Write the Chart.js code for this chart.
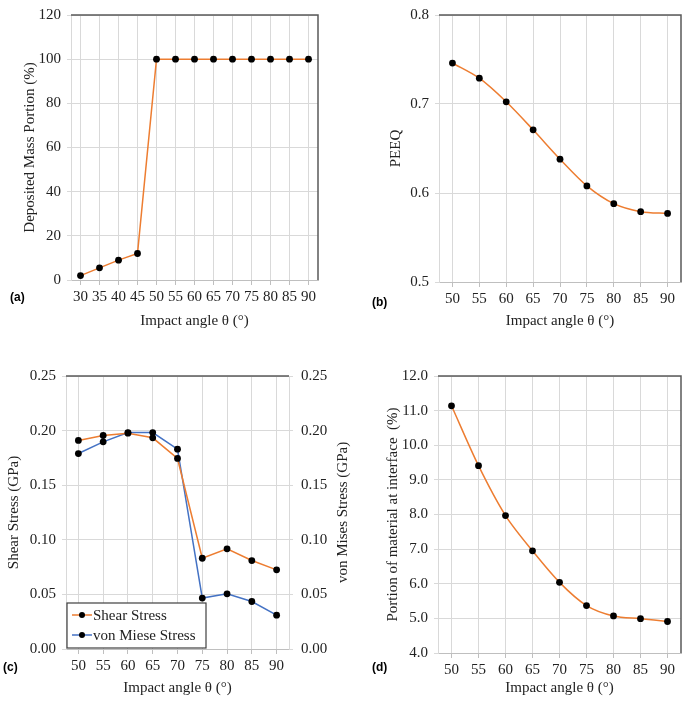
<!DOCTYPE html>
<html>
<head>
<meta charset="utf-8">
<script src="https://cdn.jsdelivr.net/npm/chart.js@4.4.1/dist/chart.umd.min.js"></script>
<style>
  html, body { margin: 0; padding: 0; background: #ffffff; }
  body { width: 685px; height: 701px; position: relative; overflow: hidden; }
  canvas { position: absolute; }
  .lab { position: absolute; font-family: "Liberation Sans", Arial, sans-serif; font-weight: bold; font-size: 12px; color: #000; }
</style>
</head>
<body>
<canvas id="ca" width="330" height="335" style="left:0px;top:0px"></canvas>
<canvas id="cb" width="345" height="335" style="left:340px;top:0px"></canvas>
<canvas id="cc" width="360" height="356" style="left:0px;top:345px"></canvas>
<canvas id="cd" width="305" height="356" style="left:380px;top:345px"></canvas>
<div class="lab" style="left:10px;top:290px">(a)</div>
<div class="lab" style="left:372px;top:295px">(b)</div>
<div class="lab" style="left:3px;top:660px">(c)</div>
<div class="lab" style="left:372px;top:660px">(d)</div>
<script>
// ---- data ----
const anglesA = [30, 35, 40, 45, 50, 55, 60, 65, 70, 75, 80, 85, 90];
const depositedMass = [2, 5.5, 9, 12, 100, 100, 100, 100, 100, 100, 100, 100, 100];
const anglesBCD = [50, 55, 60, 65, 70, 75, 80, 85, 90];
const peeq = [0.746, 0.729, 0.7025, 0.671, 0.638, 0.608, 0.588, 0.579, 0.577];
const shearStress = [0.191, 0.1955, 0.1976, 0.1934, 0.1745, 0.0831, 0.0917, 0.081, 0.0725];
const vonMisesStress = [0.179, 0.1897, 0.1982, 0.1982, 0.183, 0.0466, 0.0505, 0.0435, 0.031];
const interfacePortion = [11.14, 9.41, 7.97, 6.95, 6.04, 5.37, 5.07, 4.99, 4.91];
const seriesNames = ["Shear Stress", "von Miese Stress"];
const xTitle = "Impact angle θ (°)";
const rightTitleC = "von Mises Stress (GPa)";

const ORANGE = "#ED7D31";
const BLUE = "#4472C4";
const GRID = "#d9d9d9";
const SERIF = '"Liberation Serif", "Times New Roman", serif';

Chart.defaults.font.family = SERIF;
Chart.defaults.font.size = 15;
Chart.defaults.color = "#222";

const frame = {
  id: "frame",
  afterDatasetsDraw(chart, args, opts) {
    const ca = chart.chartArea, ctx = chart.ctx;
    ctx.save();
    ctx.strokeStyle = "#595959";
    ctx.lineWidth = 1.5;
    ctx.beginPath();
    ctx.moveTo(ca.left, ca.top);
    ctx.lineTo(ca.right, ca.top);
    if (opts.right) ctx.lineTo(ca.right, ca.bottom);
    ctx.stroke();
    ctx.restore();
  }
};

// right-axis title drawn reading bottom-to-top, like the left one
const rightTitle = {
  id: "rightTitle",
  afterDraw(chart, args, opts) {
    if (!opts.text) return;
    const s = chart.scales.y1, ctx = chart.ctx;
    ctx.save();
    ctx.translate(s.right - 9, (s.top + s.bottom) / 2);
    ctx.rotate(-Math.PI / 2);
    ctx.font = "15px " + SERIF;
    ctx.fillStyle = "#222";
    ctx.textAlign = "center";
    ctx.textBaseline = "middle";
    ctx.fillText(opts.text, 0, 0);
    ctx.restore();
  }
};

const boxLegend = {
  id: "boxLegend",
  afterDatasetsDraw(chart, args, opts) {
    if (!opts.show) return;
    const ca = chart.chartArea, ctx = chart.ctx;
    const x = ca.left + 1, w = 139, h = 45, y = ca.bottom - h - 1;
    ctx.save();
    ctx.fillStyle = "#fff";
    ctx.fillRect(x, y, w, h);
    ctx.strokeStyle = "#404040";
    ctx.lineWidth = 1.2;
    ctx.strokeRect(x, y, w, h);
    chart.data.datasets.forEach((ds, i) => {
      const cy = y + 12 + i * 20;
      ctx.strokeStyle = ds.borderColor;
      ctx.lineWidth = 1.5;
      ctx.beginPath();
      ctx.moveTo(x + 5, cy); ctx.lineTo(x + 25, cy); ctx.stroke();
      ctx.fillStyle = "#000";
      ctx.beginPath(); ctx.arc(x + 15, cy, 3, 0, Math.PI * 2); ctx.fill();
      ctx.fillStyle = "#222";
      ctx.font = "15px " + SERIF;
      ctx.textBaseline = "middle";
      ctx.textAlign = "left";
      ctx.fillText(ds.label, x + 26, cy + 1);
    });
    ctx.restore();
  }
};

function lineDs(label, data, color, tension, axis) {
  return {
    label, data, borderColor: color, backgroundColor: "#000",
    borderWidth: 1.5, tension: tension, pointRadius: 3.4,
    pointBackgroundColor: "#000", pointBorderColor: "#000", pointBorderWidth: 0,
    yAxisID: axis || "y"
  };
}

function xScale(labels, height, titlePadBottom) {
  return {
    type: "category", offset: true,
    grid: { offset: false, color: GRID, tickColor: "#bfbfbf", tickLength: 5, drawTicks: true },
    border: { color: "#bfbfbf", width: 1 },
    ticks: { padding: 3, maxRotation: 0, autoSkip: false, color: "#222" },
    title: { display: true, text: xTitle, padding: { top: 0, bottom: titlePadBottom }, color: "#222" },
    afterFit: s => { s.width = s.width; s.height = height; }
  };
}

function yScale(min, max, step, dec, width, titlePadTop, text, position) {
  return {
    type: "linear", position: position || "left", min, max,
    grid: { color: GRID, tickColor: GRID, tickLength: 4, drawOnChartArea: position !== "right" },
    border: { color: GRID, width: 1 },
    ticks: { stepSize: step, padding: position === "right" ? 8 : 6, color: "#222", callback: v => Number(v).toFixed(dec) },
    title: { display: !!text, text: text || "", padding: { top: titlePadTop, bottom: 0 }, color: "#222" },
    afterFit: s => { s.width = width; }
  };
}

function baseOpts(padding, scales, legendShow, rightBorder, rTitle) {
  return {
    responsive: false, animation: false, devicePixelRatio: 1,
    layout: { padding },
    plugins: { legend: { display: false }, tooltip: { enabled: false },
      frame: { right: rightBorder }, boxLegend: { show: legendShow },
      rightTitle: { text: rTitle || "" } },
    scales
  };
}

const plugins = [frame, boxLegend, rightTitle];

// (a)
new Chart(document.getElementById("ca"), {
  type: "line",
  data: { labels: anglesA, datasets: [lineDs("Deposited", depositedMass, ORANGE, 0)] },
  options: baseOpts({ left: 21, top: 6, right: 12, bottom: 0 }, {
    x: xScale(anglesA, 55, 5),
    y: yScale(0, 120, 20, 0, 50, 0, "Deposited Mass Portion (%)")
  }, false, true),
  plugins
});

// (b)
new Chart(document.getElementById("cb"), {
  type: "line",
  data: { labels: anglesBCD, datasets: [lineDs("PEEQ", peeq, ORANGE, 0.3)] },
  options: baseOpts({ left: 47, top: 6, right: 2, bottom: 0 }, {
    x: xScale(anglesBCD, 53, 5),
    y: yScale(0.5, 0.8, 0.1, 1, 52, 0, "PEEQ")
  }, false, true),
  plugins
});

// (c)
new Chart(document.getElementById("cc"), {
  type: "line",
  data: { labels: anglesBCD, datasets: [
    lineDs(seriesNames[0], shearStress, ORANGE, 0, "y"),
    lineDs(seriesNames[1], vonMisesStress, BLUE, 0, "y1")
  ] },
  options: baseOpts({ left: 5, top: 31, right: 8, bottom: 0 }, {
    x: xScale(anglesBCD, 52, 4),
    y: yScale(0, 0.25, 0.05, 2, 61, 0, "Shear Stress (GPa)"),
    y1: yScale(0, 0.25, 0.05, 2, 63, 0, "", "right")
  }, true, false, rightTitleC),
  plugins
});

// (d)
new Chart(document.getElementById("cd"), {
  type: "line",
  data: { labels: anglesBCD, datasets: [lineDs("Portion", interfacePortion, ORANGE, 0.3)] },
  options: baseOpts({ left: 4, top: 31, right: 1, bottom: 0 }, {
    x: xScale(anglesBCD, 48, 4),
    y: yScale(4, 12, 1, 1, 54, 0, "Portion of material at interface  (%)")
  }, false, true),
  plugins
});
</script>
</body>
</html>
